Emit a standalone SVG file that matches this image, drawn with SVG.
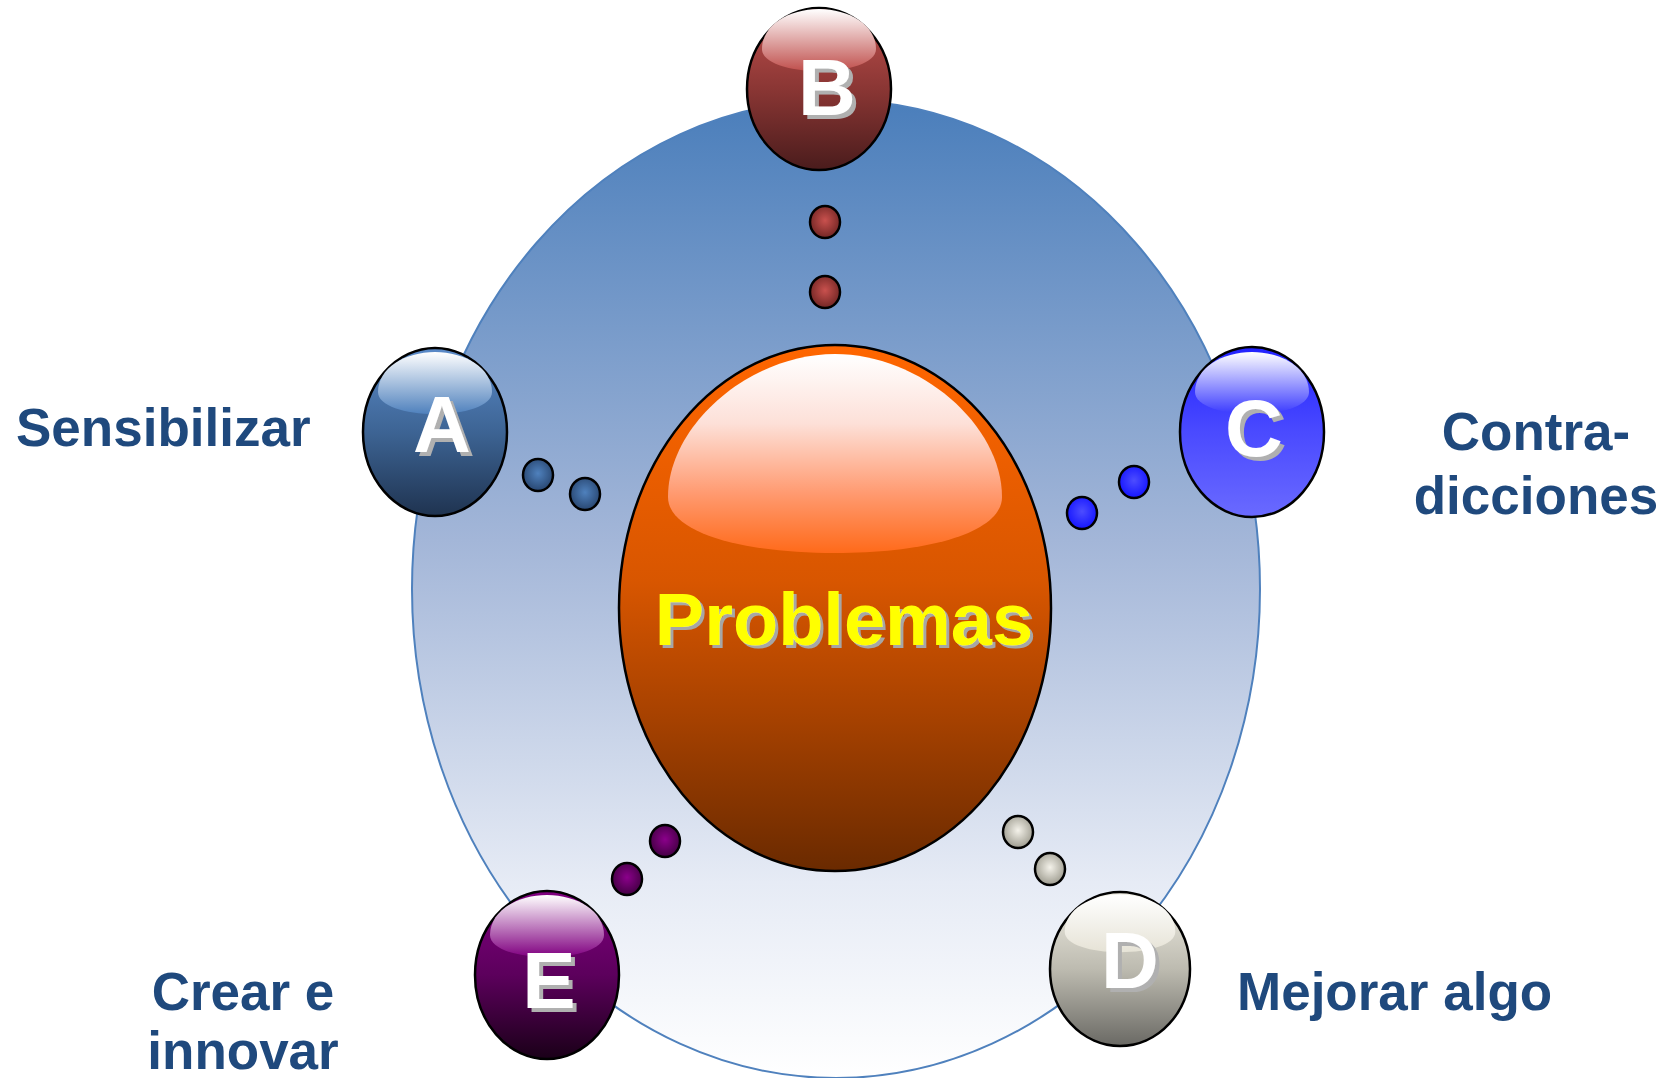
<svg xmlns="http://www.w3.org/2000/svg" width="1669" height="1078" viewBox="0 0 1669 1078">
<defs>
<linearGradient id="bg" x1="0" y1="0" x2="0" y2="1">
<stop offset="0" stop-color="#4a7ebb"/>
<stop offset="0.45" stop-color="#a3b6d8"/>
<stop offset="0.8" stop-color="#e6ebf5"/>
<stop offset="1" stop-color="#ffffff"/>
</linearGradient>
<linearGradient id="core" x1="0" y1="0" x2="0" y2="1">
<stop offset="0" stop-color="#ff6600"/>
<stop offset="0.45" stop-color="#d85600"/>
<stop offset="0.7" stop-color="#a84200"/>
<stop offset="1" stop-color="#6a2a00"/>
</linearGradient>
<linearGradient id="coreHi" x1="0" y1="0" x2="0" y2="1">
<stop offset="0" stop-color="#ffffff"/>
<stop offset="0.35" stop-color="#fde0d8"/>
<stop offset="0.7" stop-color="#ff9a70"/>
<stop offset="1" stop-color="#ff6a1a"/>
</linearGradient>
<linearGradient id="gA" x1="0" y1="0" x2="0" y2="1"><stop offset="0" stop-color="#5a8ac8"/><stop offset="0.5" stop-color="#3d6494"/><stop offset="1" stop-color="#1f3350"/></linearGradient>
<linearGradient id="hA" x1="0" y1="0" x2="0" y2="1"><stop offset="0" stop-color="#ffffff"/><stop offset="1" stop-color="#4f81bd"/></linearGradient>
<linearGradient id="gB" x1="0" y1="0" x2="0" y2="1"><stop offset="0" stop-color="#c0504d"/><stop offset="0.5" stop-color="#8a3634"/><stop offset="1" stop-color="#4a1c1c"/></linearGradient>
<linearGradient id="hB" x1="0" y1="0" x2="0" y2="1"><stop offset="0" stop-color="#ffffff"/><stop offset="1" stop-color="#c0504d"/></linearGradient>
<linearGradient id="gC" x1="0" y1="0" x2="0" y2="1"><stop offset="0" stop-color="#2222ff"/><stop offset="0.5" stop-color="#4a4aff"/><stop offset="1" stop-color="#6a6aff"/></linearGradient>
<linearGradient id="hC" x1="0" y1="0" x2="0" y2="1"><stop offset="0" stop-color="#ffffff"/><stop offset="1" stop-color="#3a3aff"/></linearGradient>
<linearGradient id="gD" x1="0" y1="0" x2="0" y2="1"><stop offset="0" stop-color="#f0eee4"/><stop offset="0.5" stop-color="#bdbbb0"/><stop offset="1" stop-color="#6a6964"/></linearGradient>
<linearGradient id="hD" x1="0" y1="0" x2="0" y2="1"><stop offset="0" stop-color="#ffffff"/><stop offset="1" stop-color="#e6e3d6"/></linearGradient>
<linearGradient id="gE" x1="0" y1="0" x2="0" y2="1"><stop offset="0" stop-color="#800080"/><stop offset="0.5" stop-color="#5c005c"/><stop offset="1" stop-color="#1a0018"/></linearGradient>
<linearGradient id="hE" x1="0" y1="0" x2="0" y2="1"><stop offset="0" stop-color="#ffffff"/><stop offset="1" stop-color="#800080"/></linearGradient>
<radialGradient id="dA" cx="0.5" cy="0.45" r="0.5"><stop offset="0" stop-color="#4f81bd"/><stop offset="1" stop-color="#2c4c78"/></radialGradient>
<radialGradient id="dB" cx="0.5" cy="0.45" r="0.5"><stop offset="0" stop-color="#c9514e"/><stop offset="1" stop-color="#7a2a28"/></radialGradient>
<radialGradient id="dC" cx="0.5" cy="0.45" r="0.5"><stop offset="0" stop-color="#4d4dff"/><stop offset="1" stop-color="#1a1aff"/></radialGradient>
<radialGradient id="dD" cx="0.5" cy="0.45" r="0.5"><stop offset="0" stop-color="#f4f2ea"/><stop offset="1" stop-color="#a6a498"/></radialGradient>
<radialGradient id="dE" cx="0.5" cy="0.45" r="0.5"><stop offset="0" stop-color="#8b008b"/><stop offset="1" stop-color="#4a004a"/></radialGradient>
<path id="hl" d="M -57,-40 C -57,-64 -30,-80 0,-80 C 30,-80 57,-64 57,-40 C 57,-26 30,-18 0,-18 C -30,-18 -57,-26 -57,-40 Z"/>
<filter id="shadow" x="-20%" y="-20%" width="140%" height="140%">
<feOffset in="SourceAlpha" dx="4" dy="4" result="off"/>
<feFlood flood-color="#b0b0b0"/>
<feComposite in2="off" operator="in" result="sh"/>
<feMerge><feMergeNode in="sh"/><feMergeNode in="SourceGraphic"/></feMerge>
</filter>
<filter id="shadow3" x="-10%" y="-20%" width="120%" height="140%">
<feOffset in="SourceAlpha" dx="3" dy="3" result="off"/>
<feFlood flood-color="#a6a6a6"/>
<feComposite in2="off" operator="in" result="sh"/>
<feMerge><feMergeNode in="sh"/><feMergeNode in="SourceGraphic"/></feMerge>
</filter>
</defs>
<style>
.ball{stroke:#000;stroke-width:2.5}
.dot{stroke:#000;stroke-width:2.5}
.letter{font-family:"Liberation Sans",Arial,sans-serif;font-weight:bold;font-size:80px;text-anchor:middle;fill:#ffffff;filter:url(#shadow)}
.lbl{font-family:"Liberation Sans",Arial,sans-serif;font-weight:bold;font-size:53px;fill:#1f497d}
</style>
<rect width="1669" height="1078" fill="#ffffff"/>
<g id="background">
<ellipse cx="836" cy="589" rx="424" ry="489" fill="url(#bg)" stroke="#4f81bd" stroke-width="2"/>
</g>
<g id="connectors">
<ellipse class="dot" cx="538" cy="475" rx="15" ry="16" fill="url(#dA)"/>
<ellipse class="dot" cx="585" cy="494" rx="15" ry="16" fill="url(#dA)"/>
<ellipse class="dot" cx="825" cy="222" rx="15" ry="16" fill="url(#dB)"/>
<ellipse class="dot" cx="825" cy="292" rx="15" ry="16" fill="url(#dB)"/>
<ellipse class="dot" cx="1134" cy="482" rx="15" ry="16" fill="url(#dC)"/>
<ellipse class="dot" cx="1082" cy="513" rx="15" ry="16" fill="url(#dC)"/>
<ellipse class="dot" cx="1018" cy="832" rx="15" ry="16" fill="url(#dD)"/>
<ellipse class="dot" cx="1050" cy="869" rx="15" ry="16" fill="url(#dD)"/>
<ellipse class="dot" cx="665" cy="841" rx="15" ry="16" fill="url(#dE)"/>
<ellipse class="dot" cx="627" cy="879" rx="15" ry="16" fill="url(#dE)"/>
</g>
<g id="problemas">
<ellipse cx="835" cy="608" rx="216" ry="263" fill="url(#core)" stroke="#000" stroke-width="2.5"/>
<path d="M 668,497 C 668,425 750,354 835,354 C 920,354 1002,425 1002,497 C 1002,532 930,553 835,553 C 740,553 668,532 668,497 Z" fill="url(#coreHi)"/>
<text x="844" y="645" font-family="'Liberation Sans',Arial,sans-serif" font-weight="bold" font-size="74" text-anchor="middle" fill="#ffff00" filter="url(#shadow3)">Problemas</text>
</g>
<g id="node-b" transform="translate(819,89)">
<ellipse class="ball" rx="72" ry="81" fill="url(#gB)"/>
<use href="#hl" fill="url(#hB)"/>
<text class="letter" x="8" y="26">B</text>
</g>
<g id="node-a" transform="translate(435,432)">
<ellipse class="ball" rx="72" ry="84" fill="url(#gA)"/>
<use href="#hl" fill="url(#hA)"/>
<text class="letter" x="7" y="20">A</text>
</g>
<g id="node-c" transform="translate(1252,432)">
<ellipse class="ball" rx="72" ry="85" fill="url(#gC)"/>
<use href="#hl" fill="url(#hC)"/>
<text class="letter" x="2" y="24">C</text>
</g>
<g id="node-d" transform="translate(1120,969)">
<ellipse class="ball" rx="70" ry="77" fill="url(#gD)"/>
<use href="#hl" fill="url(#hD)" transform="scale(0.97,0.93)"/>
<text class="letter" x="10" y="19">D</text>
</g>
<g id="node-e" transform="translate(547,975)">
<ellipse class="ball" rx="72" ry="84" fill="url(#gE)"/>
<use href="#hl" fill="url(#hE)"/>
<text class="letter" x="2" y="33">E</text>
</g>
<g id="labels">
<text class="lbl" x="16" y="446">Sensibilizar</text>
<text class="lbl" x="1536" y="450" text-anchor="middle">Contra-</text>
<text class="lbl" x="1536" y="514" text-anchor="middle">dicciones</text>
<text class="lbl" x="1237" y="1010">Mejorar algo</text>
<text class="lbl" x="243" y="1010" text-anchor="middle">Crear e</text>
<text class="lbl" x="243" y="1069" text-anchor="middle">innovar</text>
</g>
</svg>
